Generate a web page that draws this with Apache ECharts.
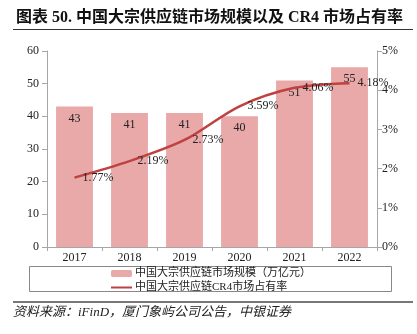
<!DOCTYPE html>
<html>
<head>
<meta charset="utf-8">
<style>
  html, body { margin: 0; padding: 0; background: #fff; }
  #chart { width: 417px; height: 334px; }
</style>
<script src="https://cdn.jsdelivr.net/npm/echarts@6/dist/echarts.min.js"></script>
</head>
<body>
<div id="chart"></div>
<script>
// Years on the category axis
const years = ['2017', '2018', '2019', '2020', '2021', '2022'];
// Market size of China's bulk-commodity supply chain, trillion yuan
const marketSize = [43, 41, 41, 40, 51, 55];
// CR4 market share, percent
const cr4Share = [1.77, 2.19, 2.73, 3.59, 4.06, 4.18];

const sizeName = '中国大宗供应链市场规模（万亿元）';
const shareName = '中国大宗供应链CR4市场占有率';

const FONT = '"Liberation Serif", "Noto Sans CJK SC", serif';
const axisGrey = '#a6a6a6';
const lineRed = '#BF4140';

const chart = echarts.init(document.getElementById('chart'), null, { renderer: 'canvas' });

chart.setOption({
  animation: false,
  backgroundColor: '#fff',
  textStyle: { fontFamily: FONT },
  title: {
    text: '图表 50. 中国大宗供应链市场规模以及 CR4 市场占有率',
    left: 11,
    top: 5,
    textStyle: { fontFamily: FONT, fontSize: 16, fontWeight: 'bold', color: '#111' }
  },
  grid: { left: 47, right: 40, top: 51, bottom: 87 },
  legend: {
    orient: 'vertical',
    left: 110,
    top: 268,
    itemWidth: 21,
    itemHeight: 7,
    itemGap: 3,
    padding: 0,
    textStyle: { fontFamily: FONT, fontSize: 11, color: '#222', padding: [0, 0, 0, -2] },
    data: [sizeName, shareName]
  },
  xAxis: {
    type: 'category',
    data: years,
    axisLine: { lineStyle: { color: axisGrey } },
    axisTick: { show: true, length: 4, lineStyle: { color: axisGrey } },
    axisLabel: { fontFamily: FONT, fontSize: 12, color: '#222', margin: 5 }
  },
  yAxis: [
    {
      type: 'value',
      min: 0,
      max: 60,
      interval: 10,
      axisLine: { show: true, lineStyle: { color: axisGrey } },
      axisTick: { show: true, length: 5, lineStyle: { color: axisGrey } },
      splitLine: { show: false },
      axisLabel: { fontFamily: FONT, fontSize: 12, color: '#222', margin: 8 }
    },
    {
      type: 'value',
      min: 0,
      max: 5,
      interval: 1,
      position: 'right',
      axisLine: { show: true, lineStyle: { color: axisGrey } },
      axisTick: { show: true, length: 5, lineStyle: { color: axisGrey } },
      splitLine: { show: false },
      axisLabel: { fontFamily: FONT, fontSize: 12, color: '#222', margin: 5, formatter: '{value}%' }
    }
  ],
  series: [
    {
      name: sizeName,
      type: 'bar',
      data: marketSize,
      barWidth: '67%',
      itemStyle: { color: '#E8A9A8' },
      label: {
        show: true,
        position: 'insideTop',
        distance: 6,
        fontFamily: FONT,
        fontSize: 12,
        color: '#222'
      }
    },
    {
      name: shareName,
      type: 'line',
      yAxisIndex: 1,
      data: cr4Share,
      smooth: 0.3,
      symbol: 'circle',
      symbolSize: 4,
      // markers are hidden, only the curve and its value labels show
      itemStyle: { color: 'rgba(0,0,0,0)' },
      lineStyle: { color: lineRed, width: 2.5 },
      label: {
        show: true,
        position: 'right',
        distance: 6,
        fontFamily: FONT,
        fontSize: 12,
        color: '#222',
        formatter: p => p.value.toFixed(2) + '%'
      },
      z: 5
    }
  ],
  graphic: [
    // rule under the heading
    { type: 'line', shape: { x1: 13, y1: 29.5, x2: 413, y2: 29.5 }, style: { stroke: '#333', lineWidth: 1 } },
    // frame around the legend
    { type: 'rect', shape: { x: 29.5, y: 266.5, width: 362, height: 25 }, style: { fill: 'none', stroke: '#888', lineWidth: 1 } },
    // rule above the source note
    { type: 'line', shape: { x1: 13, y1: 302, x2: 413, y2: 302 }, style: { stroke: '#777', lineWidth: 2 } },
    {
      type: 'text',
      left: 13,
      top: 306,
      style: {
        text: '资料来源：iFinD，厦门象屿公司公告，中银证券',
        fontFamily: FONT,
        fontSize: 13,
        fontStyle: 'italic',
        fill: '#222'
      }
    }
  ]
});
</script>
</body>
</html>
